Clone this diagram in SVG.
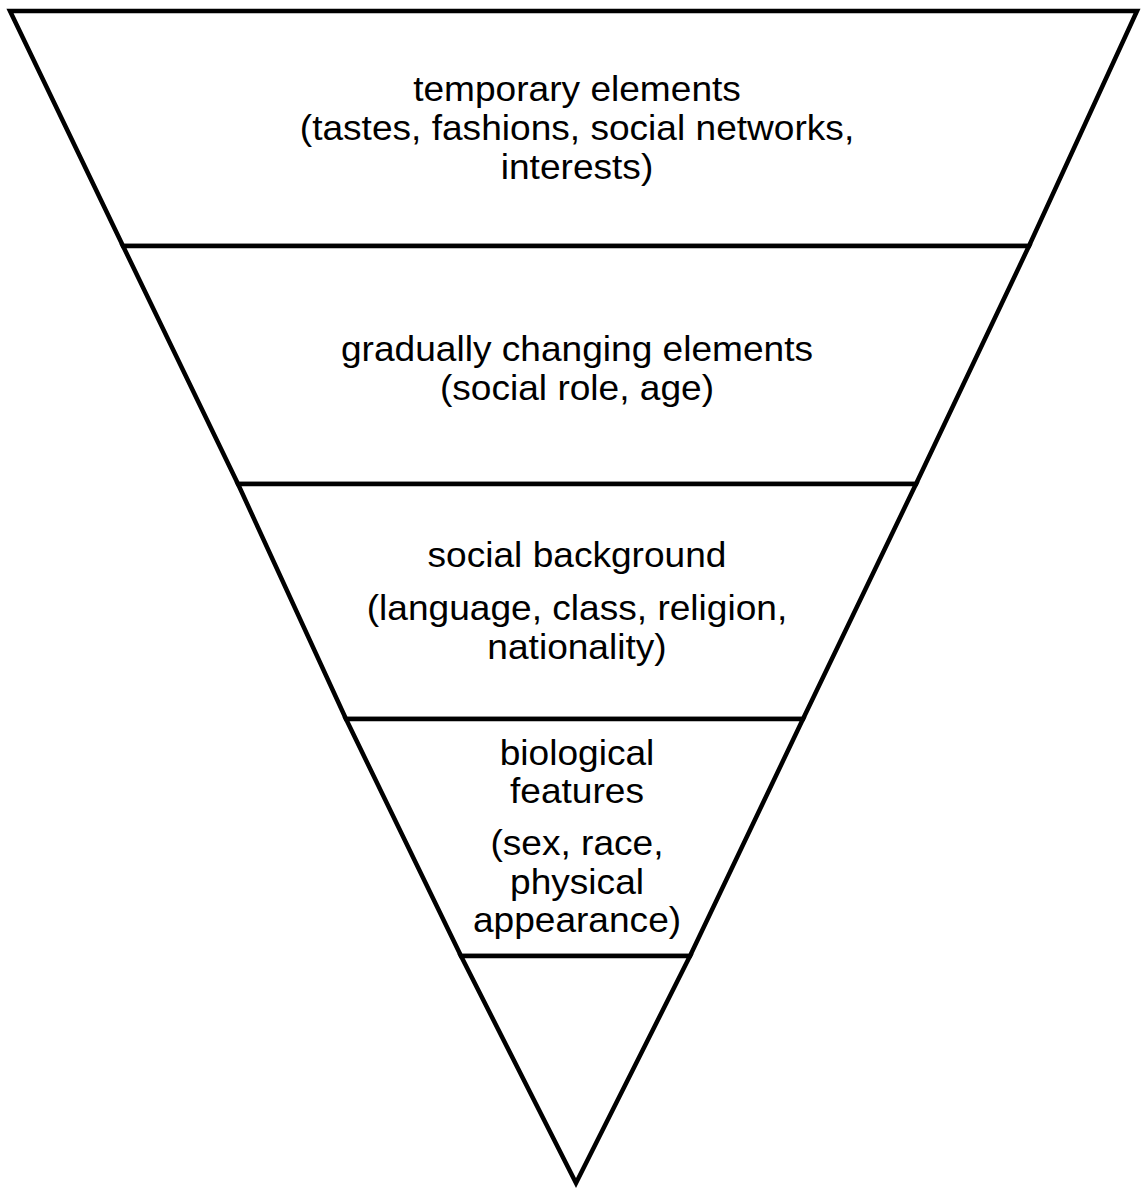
<svg xmlns="http://www.w3.org/2000/svg" width="1144" height="1192" viewBox="0 0 1144 1192">
<style>
.band{fill:#fff;stroke:#000;stroke-width:4.5;stroke-linejoin:miter}
.t{font-family:"Liberation Sans",Arial,sans-serif;font-size:35px;fill:#000;text-anchor:middle}
</style>
<rect width="1144" height="1192" fill="#fff"/>
<g id="band1">
<polygon class="band" points="10,11 1137,11 1029,246 123,246"/>
<g transform="translate(577,0) scale(1.06,1)">
<text class="t" x="0" y="101">temporary elements</text>
<text class="t" x="0" y="140">(tastes, fashions, social networks,</text>
<text class="t" x="0" y="179">interests)</text>
</g>
</g>
<g id="band2">
<polygon class="band" points="123,246 1029,246 916,484 238,484"/>
<g transform="translate(577,0) scale(1.06,1)">
<text class="t" x="0" y="361">gradually changing elements</text>
<text class="t" x="0" y="400">(social role, age)</text>
</g>
</g>
<g id="band3">
<polygon class="band" points="238,484 916,484 803,719 346,719"/>
<g transform="translate(577,0) scale(1.06,1)">
<text class="t" x="0" y="567">social background</text>
<text class="t" x="0" y="620">(language, class, religion,</text>
<text class="t" x="0" y="659">nationality)</text>
</g>
</g>
<g id="band4">
<polygon class="band" points="346,719 803,719 690,956 461,956"/>
<g transform="translate(577,0) scale(1.06,1)">
<text class="t" x="0" y="765">biological</text>
<text class="t" x="0" y="803">features</text>
<text class="t" x="0" y="855">(sex, race,</text>
<text class="t" x="0" y="894">physical</text>
<text class="t" x="0" y="932">appearance)</text>
</g>
</g>
<g id="apex">
<polygon class="band" points="461,956 690,956 576,1183"/>
</g>
<g id="connectors"></g>
</svg>
